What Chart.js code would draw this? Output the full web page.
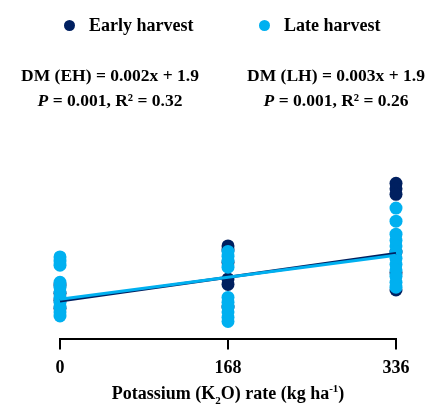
<!DOCTYPE html>
<html>
<head>
<meta charset="utf-8">
<script src="https://cdn.jsdelivr.net/npm/chart.js@4/dist/chart.umd.min.js"></script>
<style>
  html, body { margin: 0; padding: 0; background: #fff; }
  #wrap { position: relative; width: 436px; height: 408px; font-family: "Liberation Serif", "Times New Roman", serif; font-weight: bold; color: #000; }
  #chart { position: absolute; left: 0; top: 0; }
  .leg { position: absolute; top: 14px; font-size: 18px; line-height: 22px; white-space: nowrap; }
  .leg .dot { position: absolute; top: 6px; width: 11px; height: 11px; border-radius: 50%; }
  .eq { position: absolute; top: 63px; width: 220px; text-align: center; font-size: 17.5px; line-height: 25px; white-space: nowrap; }
  .eq i { font-style: italic; }
  #xtitle { position: absolute; left: 0; width: 456px; top: 382px; text-align: center; font-size: 18px; line-height: 22px; }
  #xtitle sub, #xtitle sup { font-size: 11px; line-height: 0; }
</style>
</head>
<body>
<div id="wrap">
  <canvas id="chart" width="436" height="408"></canvas>
  <div id="legend"></div>
  <div class="eq" style="left:0px">DM (EH) = 0.002x + 1.9<br><i>P</i> = 0.001, R² = 0.32</div>
  <div class="eq" style="left:226px">DM (LH) = 0.003x + 1.9<br><i>P</i> = 0.001, R² = 0.26</div>
  <div id="xtitle">Potassium (K<sub>2</sub>O) rate (kg ha<sup>-1</sup>)</div>
</div>
<script>
// K2O rates on the x axis
const xTicks = [0, 168, 336];

// Early harvest dry matter, one list per rate
const ehAt0 = [2.12, 2.00, 1.90, 1.78];
const ehAt168 = [2.69, 2.63, 2.45, 2.21, 2.13, 1.80];
const ehAt336 = [3.60, 3.52, 3.44, 2.60, 2.30, 2.05];

// Late harvest dry matter
const lhAt0 = [2.53, 2.47, 2.41, 2.16, 2.09, 2.02, 1.94, 1.87, 1.80, 1.73, 1.67];
const lhAt168 = [2.61, 2.54, 2.47, 2.38, 1.94, 1.87, 1.80, 1.73, 1.65, 1.59];
const lhAt336 = [3.24, 3.05, 2.86, 2.77, 2.69, 2.60, 2.51, 2.42, 2.34, 2.25, 2.16, 2.09];

// fitted lines, value at 0 and at 336
const ehFit = [1.89, 2.58];
const lhFit = [1.915, 2.555];

const seriesNames = ['Early harvest', 'Late harvest'];
const darkBlue = '#002060';
const lightBlue = '#00b0f0';

function toPoints(lists) {
    let pts = [];
    lists.forEach((vals, i) => {
        for (let v of vals) pts.push({x: xTicks[i], y: v});
    });
    return pts;
}

function fitPoints(fit) {
    return [{x: xTicks[0], y: fit[0]}, {x: xTicks[xTicks.length - 1], y: fit[1]}];
}

// legend in html, so the two items can sit far apart like the original
const legend = document.getElementById('legend');
const legX = [64, 259];
seriesNames.forEach((name, i) => {
    let item = document.createElement('div');
    item.className = 'leg';
    item.style.left = legX[i] + 'px';
    item.style.paddingLeft = '25px';
    let dot = document.createElement('span');
    dot.className = 'dot';
    dot.style.left = '0px';
    dot.style.background = i === 0 ? darkBlue : lightBlue;
    item.appendChild(dot);
    item.appendChild(document.createTextNode(name));
    legend.appendChild(item);
});

const ctx = document.getElementById('chart');
new Chart(ctx, {
    type: 'scatter',
    data: {
        datasets: [
            // first in list is drawn on top
            {type: 'line', label: 'LH fit', data: fitPoints(lhFit), borderColor: lightBlue, borderWidth: 3, pointRadius: 0, clip: false},
            {type: 'line', label: 'EH fit', data: fitPoints(ehFit), borderColor: darkBlue, borderWidth: 3, pointRadius: 0, clip: false},
            {label: seriesNames[1], data: toPoints([lhAt0, lhAt168, lhAt336]), backgroundColor: lightBlue, borderColor: lightBlue, borderWidth: 0, pointRadius: 6.5, clip: false},
            {label: seriesNames[0], data: toPoints([ehAt0, ehAt168, ehAt336]), backgroundColor: darkBlue, borderColor: darkBlue, borderWidth: 0, pointRadius: 6.5, clip: false},
        ]
    },
    options: {
        responsive: false,
        animation: false,
        layout: {padding: {left: 60, right: 40, top: 140, bottom: 21}},
        plugins: {
            legend: {display: false},
            tooltip: {enabled: false}
        },
        scales: {
            x: {
                type: 'linear',
                min: 0,
                max: 336,
                afterBuildTicks: (axis) => { axis.ticks = xTicks.map(v => ({value: v})); },
                grid: {display: true, drawOnChartArea: false, drawTicks: true, tickLength: 10, color: '#000', lineWidth: 2},
                border: {display: true, color: '#000', width: 2},
                ticks: {color: '#000', padding: 8, font: {family: 'Liberation Serif', size: 18, weight: 'bold'}}
            },
            y: {
                display: false,
                min: 1.33,
                max: 4.23
            }
        }
    }
});
</script>
</body>
</html>
